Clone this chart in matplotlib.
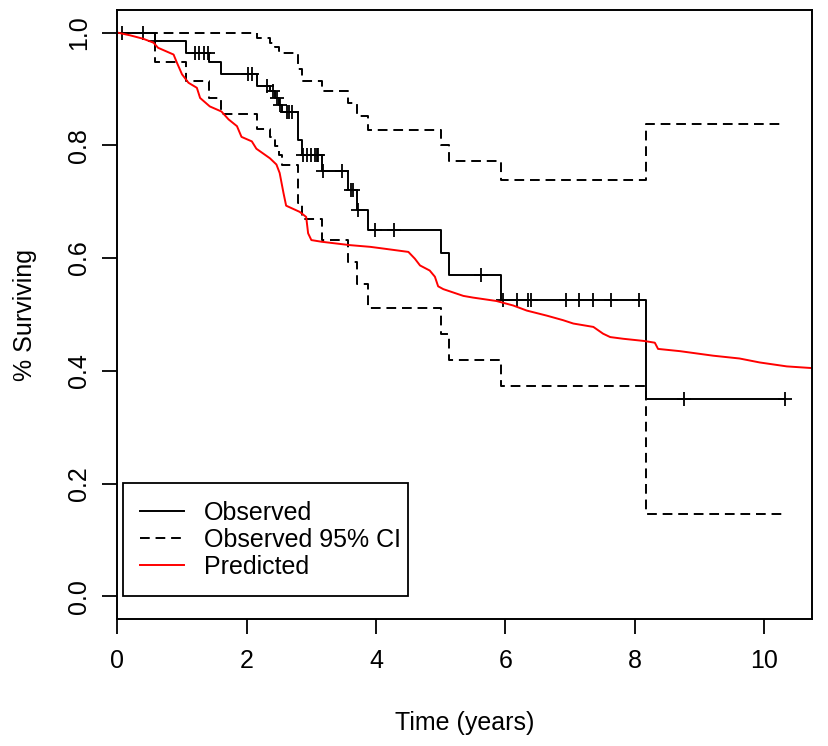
import numpy as np
import matplotlib
matplotlib.use("Agg")
import matplotlib.pyplot as plt

plt.rcParams['font.family'] = ['Liberation Sans', 'DejaVu Sans']

# Observed Kaplan-Meier step data (event times and survival after each step)
obs_times = [0.0, 0.58, 1.06, 1.41, 1.61, 2.16, 2.36, 2.44, 2.50, 2.54, 2.80, 2.85,
             3.16, 3.57, 3.70, 3.88, 5.01, 5.13, 5.93, 8.18]
obs_surv = [1.000, 0.985, 0.964, 0.947, 0.926, 0.905, 0.896, 0.884, 0.872, 0.859,
            0.810, 0.783, 0.754, 0.721, 0.685, 0.650, 0.609, 0.570, 0.525, 0.350]
ci_upper = [1.000, 1.000, 1.000, 1.000, 1.000, 0.991, 0.982, 0.975, 0.968, 0.964,
            0.935, 0.914, 0.896, 0.875, 0.852, 0.828, 0.800, 0.773, 0.739, 0.837]
ci_lower = [1.000, 0.948, 0.914, 0.884, 0.856, 0.829, 0.815, 0.798, 0.782, 0.766,
            0.697, 0.669, 0.632, 0.594, 0.554, 0.512, 0.466, 0.420, 0.373, 0.147]
last_time = 10.33

# Censoring times (marked with +)
censor_times = [0.07, 0.40, 0.59, 1.20, 1.27, 1.34, 1.40, 2.02, 2.08, 2.32, 2.40, 2.47,
                2.52, 2.62, 2.66, 2.70, 2.87, 2.93, 3.00, 3.06, 3.09, 3.11, 3.18, 3.47,
                3.62, 3.65, 3.72, 3.98, 4.27, 5.62, 5.96, 6.18, 6.35, 6.40, 6.93, 7.14,
                7.36, 7.63, 8.06, 8.76, 10.33]

# Predicted survival curve
pred_times = [0.0, 0.20, 0.40, 0.56, 0.63, 0.87, 0.92, 1.00, 1.10, 1.23, 1.28, 1.43,
              1.61, 1.72, 1.85, 1.92, 2.08, 2.15, 2.36, 2.46, 2.51, 2.57, 2.61, 2.82,
              2.92, 2.95, 3.00, 3.16, 3.60, 3.91, 4.11, 4.50, 4.60, 4.68, 4.83, 4.91,
              4.96, 5.04, 5.35, 5.50, 5.86, 6.12, 6.33, 6.64, 6.89, 7.05, 7.36, 7.51,
              7.62, 7.82, 8.15, 8.31, 8.36, 8.70, 9.21, 9.62, 9.93, 10.35, 10.74]
pred_surv = [1.000, 0.995, 0.989, 0.982, 0.973, 0.961, 0.947, 0.926, 0.911, 0.902,
             0.884, 0.869, 0.860, 0.846, 0.834, 0.815, 0.807, 0.794, 0.777, 0.766,
             0.751, 0.715, 0.693, 0.682, 0.673, 0.644, 0.632, 0.629, 0.623, 0.620,
             0.617, 0.611, 0.599, 0.587, 0.578, 0.567, 0.550, 0.545, 0.533, 0.530,
             0.524, 0.516, 0.507, 0.498, 0.490, 0.484, 0.478, 0.466, 0.460, 0.457,
             0.453, 0.450, 0.439, 0.435, 0.427, 0.422, 0.415, 0.408, 0.405]

x_ticks = [0, 2, 4, 6, 8, 10]
y_ticks = [0.0, 0.2, 0.4, 0.6, 0.8, 1.0]

fig = plt.figure(figsize=(8.29, 7.46), dpi=100)
ax = fig.add_axes([0.1415, 0.1702, 0.838, 0.8164])

t_step = np.array(obs_times + [last_time])
def ext(v):
    return np.array(v + [v[-1]])

lw = 1.4
dash = (0, (5.0, 3.0))
ax.plot(t_step, ext(obs_surv), drawstyle='steps-post', color='black', lw=lw,
        label='Observed')
ct = np.array(censor_times)
idx = np.searchsorted(np.array(obs_times), ct, side='right') - 1
ax.plot(ct, np.array(obs_surv)[idx], linestyle='none', marker='+', color='black',
        markersize=9.6, markeredgewidth=1.3)
ax.plot(t_step, ext(ci_upper), drawstyle='steps-post', color='black', lw=lw,
        linestyle=dash, label='Observed 95% CI')
ax.plot(t_step, ext(ci_lower), drawstyle='steps-post', color='black', lw=lw,
        linestyle=dash)
ax.plot(pred_times, pred_surv, color='red', lw=lw, label='Predicted')

ax.set_xlim(0, 10.74)
ax.set_ylim(-0.04, 1.04)
ax.set_xticks(x_ticks)
ax.set_xticklabels([str(v) for v in x_ticks])
ax.set_yticks(y_ticks)
ax.set_yticklabels([f"{v:.1f}" for v in y_ticks], rotation=90, va='center')
ax.tick_params(axis='both', direction='out', length=10.8, width=1.3,
               labelsize=18, colors='black')
ax.tick_params(axis='x', pad=11)
ax.tick_params(axis='y', pad=8)
for sp in ax.spines.values():
    sp.set_linewidth(1.4)
    sp.set_color('black')

ax.set_xlabel('Time (years)', fontsize=18, labelpad=27)
ax.set_ylabel('% Surviving', fontsize=18, labelpad=22)

leg = ax.legend(loc='upper left', bbox_to_anchor=(0.0078, 0.2228, 0.4102, 0.0),
                mode='expand', fontsize=18, frameon=True, fancybox=False,
                edgecolor='black', framealpha=1, borderpad=0.7, labelspacing=0.12,
                handlelength=1.75, handletextpad=0.8, borderaxespad=0.0)
leg.get_frame().set_linewidth(1.3)

fig.savefig('out.png', dpi=100)
